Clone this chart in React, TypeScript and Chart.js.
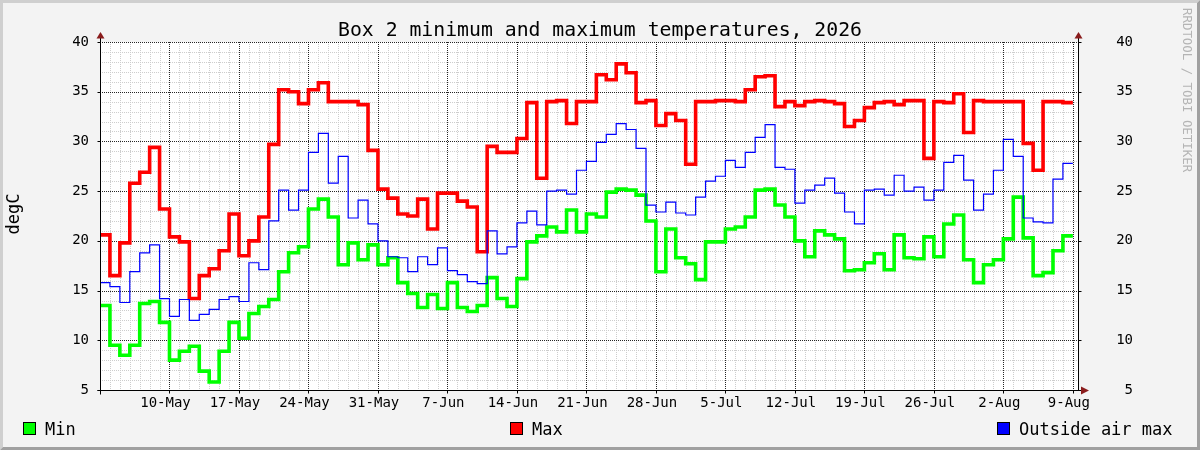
import { useEffect, useRef } from 'react';
import { Chart, registerables } from 'chart.js';

Chart.register(...registerables);

const FONT = '"DejaVu Sans Mono", monospace';

// days are counted from 1 May; the first value belongs to 3 May
const firstDay = 2;

const maxTemps = [
    20.6, 16.5, 19.8, 25.8, 26.9, 29.4, 23.2, 20.4, 19.9, 14.2,
    16.5, 17.2, 19.0, 22.7, 18.5, 20.0, 22.4, 29.7, 35.2, 35.0,
    33.8, 35.2, 35.9, 34.0, 34.0, 34.0, 33.7, 29.1, 25.2, 24.3,
    22.7, 22.5, 24.2, 21.2, 24.8, 24.8, 24.0, 23.4, 18.9, 29.5,
    28.9, 28.9, 30.3, 33.9, 26.3, 34.0, 34.1, 31.8, 34.0, 34.0,
    36.7, 36.2, 37.8, 36.9, 33.9, 34.1, 31.6, 32.8, 32.1, 27.7,
    34.0, 34.0, 34.1, 34.1, 34.0, 35.2, 36.5, 36.6, 33.5, 34.0,
    33.6, 34.0, 34.1, 34.0, 33.8, 31.5, 32.1, 33.4, 33.9, 34.0,
    33.7, 34.1, 34.1, 28.3, 34.0, 33.9, 34.8, 30.9, 34.1, 34.0,
    34.0, 34.0, 34.0, 29.8, 27.1, 34.0, 34.0, 33.9,
];

const minTemps = [
    13.5, 9.5, 8.5, 9.5, 13.7, 13.9, 11.8, 8.0, 8.9, 9.4,
    6.9, 5.8, 8.9, 11.8, 10.2, 12.7, 13.4, 14.1, 16.9, 18.8,
    19.4, 23.2, 24.2, 22.4, 17.6, 19.8, 18.1, 19.6, 17.6, 18.3,
    15.8, 14.7, 13.3, 14.6, 13.2, 15.8, 13.3, 12.9, 13.5, 16.3,
    14.2, 13.4, 16.2, 19.9, 20.5, 21.4, 20.9, 23.1, 20.9, 22.7,
    22.4, 24.9, 25.2, 25.1, 24.6, 22.0, 16.9, 21.2, 18.3, 17.7,
    16.1, 19.9, 19.9, 21.2, 21.4, 22.4, 25.1, 25.2, 23.6, 22.4,
    20.0, 18.4, 21.0, 20.6, 20.2, 17.0, 17.1, 17.8, 18.7, 17.1,
    20.6, 18.3, 18.2, 20.4, 18.4, 21.7, 22.6, 18.1, 15.8, 17.6,
    18.1, 20.2, 24.4, 20.3, 16.5, 16.8, 19.0, 20.5,
];

const outsideMax = [
    15.8, 15.4, 13.8, 16.9, 18.8, 19.6, 14.2, 12.4, 14.1, 12.0,
    12.6, 13.1, 14.1, 14.4, 13.9, 17.8, 17.1, 22.0, 25.1, 23.1,
    25.1, 28.9, 30.8, 25.8, 28.5, 22.3, 24.1, 21.7, 20.0, 18.4,
    18.3, 16.9, 18.4, 17.6, 19.3, 17.0, 16.6, 15.9, 15.7, 21.0,
    18.7, 19.4, 21.8, 23.0, 21.6, 25.0, 25.1, 24.7, 27.1, 28.0,
    29.9, 30.7, 31.8, 31.2, 29.3, 23.6, 22.9, 23.9, 22.8, 22.6,
    24.4, 26.0, 26.5, 28.1, 27.4, 28.9, 30.4, 31.7, 27.4, 27.2,
    23.8, 25.1, 25.6, 26.3, 24.8, 22.9, 21.7, 25.1, 25.2, 24.6,
    26.6, 25.0, 25.4, 24.1, 25.1, 27.9, 28.6, 26.1, 23.1, 24.7,
    27.1, 30.2, 28.5, 22.3, 21.9, 21.8, 26.2, 27.8,
];

const tickDays = [9, 16, 23, 30, 37, 44, 51, 58, 65, 72, 79, 86, 93, 100];
const tickLabels = ['10-May', '17-May', '24-May', '31-May', '7-Jun', '14-Jun', '21-Jun',
    '28-Jun', '5-Jul', '12-Jul', '19-Jul', '26-Jul', '2-Aug', '9-Aug'];
const yTicks = [5, 10, 15, 20, 25, 30, 35, 40];

const legendItems = [
    { label: 'Min', color: '#00ff00', x: 23 },
    { label: 'Max', color: '#ff0000', x: 510 },
    { label: 'Outside air max', color: '#0000ff', x: 997 },
];

// one point per day, plus a closing point so the last day gets its full step
const toSteps = (vals: number[]) => {
    const pts = vals.map((y, i) => ({ x: firstDay + i, y }));
    pts.push({ x: firstDay + vals.length, y: vals[vals.length - 1] });
    return pts;
};

const hLine = (ctx: CanvasRenderingContext2D, x1: number, x2: number, y: number) => {
    ctx.beginPath();
    ctx.moveTo(x1, y);
    ctx.lineTo(x2, y);
    ctx.stroke();
};
const vLine = (ctx: CanvasRenderingContext2D, x: number, y1: number, y2: number) => {
    ctx.beginPath();
    ctx.moveTo(x, y1);
    ctx.lineTo(x, y2);
    ctx.stroke();
};
const tri = (ctx: CanvasRenderingContext2D, pts: number[][]) => {
    ctx.beginPath();
    ctx.moveTo(pts[0][0], pts[0][1]);
    ctx.lineTo(pts[1][0], pts[1][1]);
    ctx.lineTo(pts[2][0], pts[2][1]);
    ctx.closePath();
    ctx.fill();
};

const rrdPlugin = {
    id: 'rrdLook',
    beforeDraw(chart: any) {
        const { ctx, width, height, chartArea: a } = chart;
        const b = 3;
        ctx.save();
        ctx.fillStyle = '#f3f3f3';
        ctx.fillRect(0, 0, width, height);
        // 3d frame
        ctx.fillStyle = '#cfcfcf';
        ctx.beginPath();
        ctx.moveTo(0, height); ctx.lineTo(b, height - b); ctx.lineTo(b, b);
        ctx.lineTo(width - b, b); ctx.lineTo(width, 0); ctx.lineTo(0, 0);
        ctx.closePath(); ctx.fill();
        ctx.fillStyle = '#a0a0a0';
        ctx.beginPath();
        ctx.moveTo(b, height - b); ctx.lineTo(width - b, height - b); ctx.lineTo(width - b, b);
        ctx.lineTo(width, 0); ctx.lineTo(width, height); ctx.lineTo(0, height);
        ctx.closePath(); ctx.fill();
        ctx.fillStyle = '#ffffff';
        ctx.fillRect(a.left, a.top, a.right - a.left, a.bottom - a.top);
        ctx.restore();
    },
    beforeDatasetsDraw(chart: any) {
        const { ctx, chartArea: a, scales } = chart;
        const xs = scales.x;
        const ys = scales.y;
        ctx.save();
        ctx.beginPath();
        ctx.rect(a.left, a.top - 1, a.right - a.left, a.bottom - a.top + 1);
        ctx.clip();
        ctx.lineWidth = 1;
        ctx.setLineDash([1, 1]);
        // minor grid: every day, every degree
        ctx.strokeStyle = '#cdcdcd';
        for (let d = Math.ceil(xs.min); d <= xs.max; d++) {
            if (tickDays.includes(d)) continue;
            vLine(ctx, Math.round(xs.getPixelForValue(d)) + 0.5, a.top, a.bottom);
        }
        for (let v = Math.ceil(ys.min); v <= ys.max; v++) {
            if (yTicks.includes(v)) continue;
            hLine(ctx, a.left, a.right, Math.round(ys.getPixelForValue(v)) + 0.5);
        }
        // major grid
        ctx.strokeStyle = 'rgba(0,0,0,0.85)';
        tickDays.forEach((d) => vLine(ctx, Math.round(xs.getPixelForValue(d)) + 0.5, a.top, a.bottom));
        yTicks.forEach((v) => hLine(ctx, a.left, a.right, Math.round(ys.getPixelForValue(v)) + 0.5));
        ctx.restore();
    },
    afterDatasetsDraw(chart: any) {
        const { ctx, chartArea: a, scales } = chart;
        const xs = scales.x;
        const ys = scales.y;
        const left = Math.round(a.left) + 0.5;
        const right = Math.round(a.right) - 0.5;
        const bottom = Math.round(a.bottom) + 0.5;
        ctx.save();
        ctx.strokeStyle = '#000';
        ctx.lineWidth = 1;
        hLine(ctx, left - 3, right + 2, bottom);
        vLine(ctx, left, 38, bottom + 4);
        vLine(ctx, right, 38, bottom);
        yTicks.forEach((v) => {
            const py = Math.round(ys.getPixelForValue(v)) + 0.5;
            hLine(ctx, left - 3, left, py);
            hLine(ctx, right, right + 3, py);
        });
        tickDays.forEach((d) => {
            const px = Math.round(xs.getPixelForValue(d)) + 0.5;
            vLine(ctx, px, bottom, bottom + 3);
        });
        ctx.fillStyle = '#8a1c1c';
        tri(ctx, [[left - 4, 38.5], [left + 4, 38.5], [left, 32]]);
        tri(ctx, [[right - 4, 38.5], [right + 4, 38.5], [right, 32]]);
        tri(ctx, [[right + 2.5, bottom - 4], [right + 2.5, bottom + 4], [right + 10.5, bottom]]);
        ctx.restore();
    },
    afterDraw(chart: any) {
        const { ctx, chartArea: a } = chart;
        ctx.save();
        ctx.fillStyle = '#000';
        ctx.font = `19.8px ${FONT}`;
        ctx.textAlign = 'center';
        ctx.textBaseline = 'alphabetic';
        ctx.fillText('Box 2 minimum and maximum temperatures, 2026', 600, 36);

        ctx.save();
        ctx.translate(15, (a.top + a.bottom) / 2 - 2);
        ctx.rotate(-Math.PI / 2);
        ctx.font = `17px ${FONT}`;
        ctx.textBaseline = 'middle';
        ctx.fillText('degC', 0, 0);
        ctx.restore();

        ctx.save();
        ctx.translate(1186, 8);
        ctx.rotate(Math.PI / 2);
        ctx.font = `12.4px ${FONT}`;
        ctx.fillStyle = '#b4b4b4';
        ctx.textAlign = 'left';
        ctx.textBaseline = 'middle';
        ctx.fillText('RRDTOOL / TOBI OETIKER', 0, 0);
        ctx.restore();

        ctx.font = `17px ${FONT}`;
        ctx.textAlign = 'left';
        ctx.textBaseline = 'alphabetic';
        ctx.lineWidth = 1;
        ctx.strokeStyle = '#000';
        legendItems.forEach((it) => {
            ctx.fillStyle = it.color;
            ctx.fillRect(it.x, 422, 13, 13);
            ctx.strokeRect(it.x + 0.5, 422.5, 12, 12);
            ctx.fillStyle = '#000';
            ctx.fillText(it.label, it.x + 22, 435);
        });
        ctx.restore();
    },
};

export default function App() {
    const canvasRef = useRef<HTMLCanvasElement>(null);

    useEffect(() => {
        if (!canvasRef.current) return;
        const tickFont = { family: FONT, size: 14 };
        const line = (label: string, vals: number[], color: string, width: number, order: number) => ({
            label, data: toSteps(vals), borderColor: color, borderWidth: width,
            stepped: true, pointRadius: 0, fill: false, order, yAxisID: 'y',
            borderJoinStyle: 'miter', borderCapStyle: 'butt',
        });
        const chart = new Chart(canvasRef.current, {
            type: 'line',
            data: {
                datasets: [
                    line('Min', minTemps, '#00ff00', 3.6, 3),
                    line('Max', maxTemps, '#ff0000', 3.6, 2),
                    line('Outside air max', outsideMax, '#0000ff', 1.2, 1),
                ],
            },
            options: {
                animation: false,
                responsive: false,
                maintainAspectRatio: false,
                events: [],
                layout: { padding: { top: 42, right: 67, bottom: 0, left: 0 } },
                plugins: {
                    legend: { display: false },
                    tooltip: { enabled: false },
                },
                scales: {
                    x: {
                        type: 'linear',
                        min: 2,
                        max: 100.62,
                        grid: { display: false, drawTicks: false },
                        border: { display: false },
                        afterBuildTicks: (s: any) => { s.ticks = tickDays.map((v) => ({ value: v })); },
                        afterFit: (s: any) => { s.height = 60; },
                        ticks: {
                            autoSkip: false, maxRotation: 0, minRotation: 0, padding: 5, labelOffset: -4,
                            color: '#000', font: tickFont,
                            callback: (v: any) => tickLabels[tickDays.indexOf(Number(v))] ?? '',
                        },
                    },
                    y: {
                        position: 'left',
                        min: 5,
                        max: 40,
                        grid: { display: false, drawTicks: false },
                        border: { display: false },
                        afterBuildTicks: (s: any) => { s.ticks = yTicks.map((v) => ({ value: v })); },
                        afterFit: (s: any) => { s.width = 100; },
                        ticks: { autoSkip: false, padding: 11, crossAlign: 'near', color: '#000', font: tickFont },
                    },
                    y2: {
                        position: 'right',
                        min: 5,
                        max: 40,
                        grid: { display: false, drawTicks: false },
                        border: { display: false },
                        afterBuildTicks: (s: any) => { s.ticks = yTicks.map((v) => ({ value: v })); },
                        afterFit: (s: any) => { s.width = 54; },
                        ticks: { autoSkip: false, padding: 0, crossAlign: 'far', color: '#000', font: tickFont },
                    },
                },
            },
            plugins: [rrdPlugin],
        } as any);

        return () => chart.destroy();
    }, []);

    return (
        <div style={{ position: 'absolute', left: 0, top: 0, width: 1200, height: 450 }}>
            <canvas ref={canvasRef} width={1200} height={450} style={{ width: 1200, height: 450 }} />
        </div>
    );
}
